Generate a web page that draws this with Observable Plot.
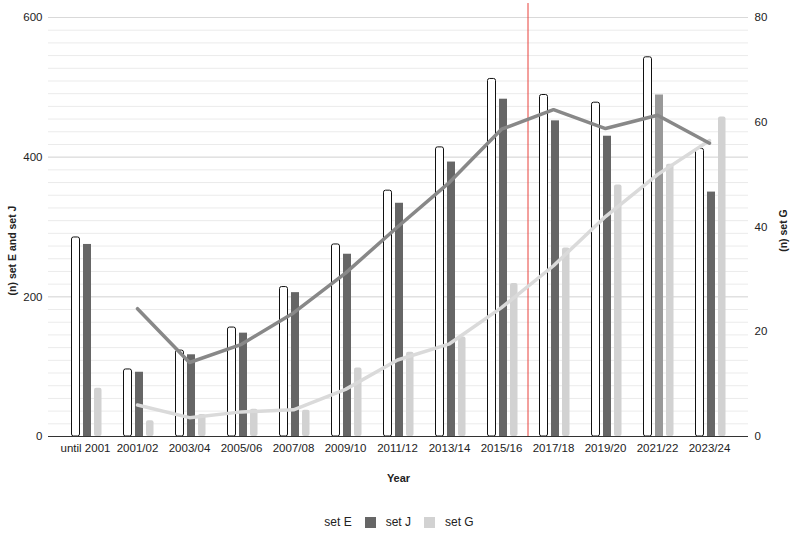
<!DOCTYPE html>
<html><head><meta charset="utf-8">
<script src="https://cdn.jsdelivr.net/npm/d3@7"></script>
<script src="https://cdn.jsdelivr.net/npm/@observablehq/plot@0.6"></script>
<style>
body{margin:0;background:#fff;font-family:"Liberation Sans",Arial,sans-serif;}
#legend{width:790px;display:flex;justify-content:center;align-items:center;font-size:12px;color:#222;padding-top:15px;}
#legend span.sw{display:inline-block;width:11px;height:11px;margin-right:10px;}
#legend span.it{margin-right:13px;}
</style></head><body>
<div id="chart"></div>
<div id="legend"></div>
<script>
const categories = ["until 2001","2001/02","2003/04","2005/06","2007/08","2009/10","2011/12","2013/14","2015/16","2017/18","2019/20","2021/22","2023/24"];
const setE = [285,96,123,156,214,275,352,414,512,489,478,543,412];
const setJ = [275,92,117,148,206,261,334,393,483,452,430,489,350];
const setG = [9.2,3.0,4.2,5.2,5.0,13.1,16.1,19.0,29.2,36.0,48.0,52.0,61.0];
// trend lines (from 2001/02 on)
const trendJ = [null,183,106,132,177,234,300,364,440,468,441,460,420];
const trendG = [null,6.0,3.6,4.7,5.1,9.0,14.6,17.7,24.6,32.6,42.0,50.0,56.5];
const leftTicks = [0,200,400,600];
const rightTicks = [0,20,40,60,80];
const highlightJ = "2021/22";
const markerBefore = "2017/18";

const k = 600/80; // right axis -> left axis
const rows = categories.map((c,i)=>({c,e:setE[i],j:setJ[i],g:setG[i]*k,tj:trendJ[i],tg:trendG[i]==null?null:trendG[i]*k}));
const lineRows = rows.filter(d=>d.tj!=null);
const minor = d3.range(0,33).map(i=>i*600/33).filter(v=>v>0);

const font = '"Liberation Sans", Arial, sans-serif';
const chart = Plot.plot({
  width:790,height:500,marginLeft:48,marginRight:42,marginTop:17,marginBottom:64,
  style:{fontFamily:font,fontSize:"11.5px",color:"#222",background:"#fff"},
  x:{type:"band",domain:categories,paddingInner:0,paddingOuter:0,insetLeft:7,insetRight:10,label:null},
  y:{domain:[0,600],label:null},
  marks:[
    Plot.ruleY(minor,{stroke:"#ebebeb",strokeWidth:1}),
    Plot.ruleY([200,400,600],{stroke:"#d9d9d9",strokeWidth:1}),
    Plot.rectY(rows,{x:"c",y:"e",fill:"#fff",stroke:"#111",strokeWidth:1,rx:2,insetLeft:12.5,insetRight:31.5}),
    Plot.rectY(rows,{x:"c",y:"j",fill:d=>d.c===highlightJ?"#999999":"#666666",insetLeft:24,insetRight:20}),
    Plot.rectY(rows,{x:"c",y:"g",fill:"#d2d2d2",rx:2,insetLeft:35,insetRight:9.5}),
    Plot.ruleY([0],{stroke:"#333",strokeWidth:1.2}),
    Plot.ruleX([markerBefore],{x:d=>d,y1:0,y2:620,stroke:"#e8403a",strokeWidth:1,dx:-25.5}),
    Plot.line(lineRows,{x:"c",y:"tg",stroke:"#dadada",strokeWidth:3.5}),
    Plot.line(lineRows,{x:"c",y:"tj",stroke:"#888888",strokeWidth:3.5}),
    Plot.axisY({ticks:leftTicks,tickSize:0,tickPadding:6,label:null}),
    Plot.axisY({anchor:"right",ticks:rightTicks.map(v=>v*k),tickFormat:d=>String(Math.round(d/k)),tickSize:0,tickPadding:6,label:null}),
    Plot.axisX({tickSize:0,tickPadding:7,label:null}),
    Plot.text(["(n) set E and set J"],{frameAnchor:"left",textAnchor:"middle",dx:-36,dy:23.5,rotate:-90,fontWeight:"bold",fontSize:10.5,fill:"#222"}),
    Plot.text(["(n) set G"],{frameAnchor:"right",textAnchor:"middle",dx:35,dy:3.5,rotate:-90,fontWeight:"bold",fontSize:10.5,fill:"#222"}),
    Plot.text(["Year"],{frameAnchor:"bottom",dx:0,dy:45,fontWeight:"bold",fontSize:11,fill:"#222"})
  ]
});
document.getElementById("chart").appendChild(chart);

const legendItems = [["set E","#ffffff"],["set J","#666666"],["set G","#d2d2d2"]];
const lg = document.getElementById("legend");
legendItems.forEach(([name,color])=>{
  const s=document.createElement("span");s.className="sw";s.style.background=color;lg.appendChild(s);
  const t=document.createElement("span");t.className="it";t.textContent=name;lg.appendChild(t);
});
</script>
</body></html>
